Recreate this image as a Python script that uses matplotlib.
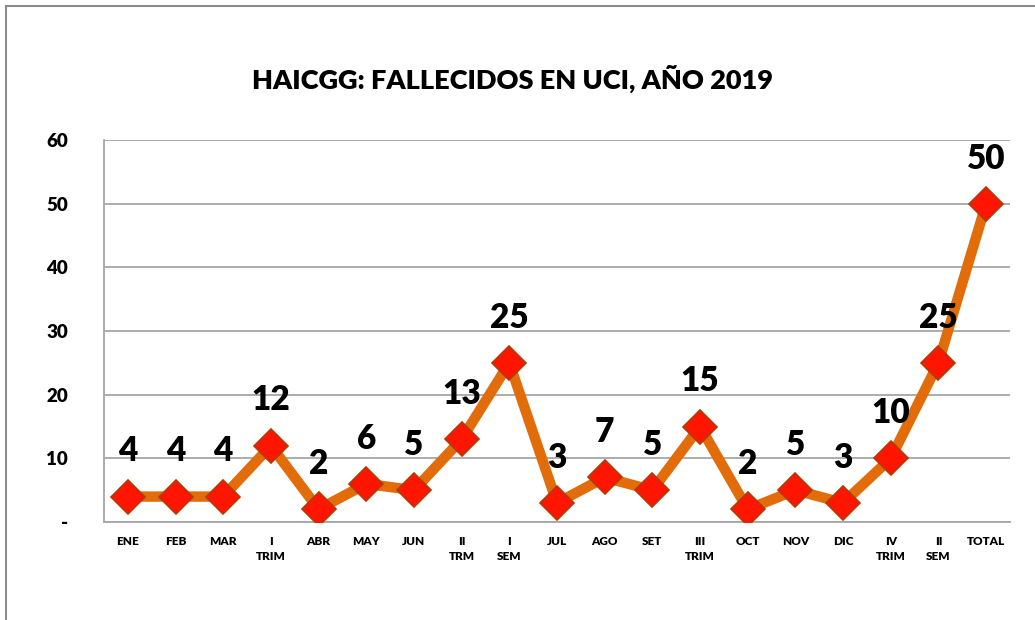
import numpy as np
import matplotlib
matplotlib.use('Agg')
import matplotlib.pyplot as plt
from matplotlib.lines import Line2D

################################################################################

categories = ["ENE", "FEB", "MAR", "I\nTRIM", "ABR", "MAY", "JUN", "II\nTRM",
              "I\nSEM", "JUL", "AGO", "SET", "III\nTRIM", "OCT", "NOV", "DIC",
              "IV\nTRIM", "II\nSEM", "TOTAL"]
values = [4, 4, 4, 12, 2, 6, 5, 13, 25, 3, 7, 5, 15, 2, 5, 3, 10, 25, 50]

y_ticks = [0, 10, 20, 30, 40, 50, 60]
y_labels = ["-", "10", "20", "30", "40", "50", "60"]

title = "HAICGG: FALLECIDOS EN UCI, AÑO 2019"

################################################################################

plt.rcParams['font.family'] = ['Lato', 'DejaVu Sans']
plt.rcParams['font.weight'] = 'bold'

fig = plt.figure(figsize=(10.35, 6.2), dpi=100)
ax = fig.add_axes([0.1005, 0.158, 0.8753, 0.616])

x = np.arange(len(values))
ax.plot(x, values, color="#E36C0A", linewidth=7.5, solid_joinstyle="miter", zorder=3)
ax.plot(x, values, linestyle="none", marker="D", markersize=17.5,
        markerfacecolor="#FF1500", markeredgecolor="#B33A00", markeredgewidth=1.2,
        zorder=4)

for xi, v in zip(x, values):
    ax.annotate(str(v), (xi, v), xytext=(0, 21), textcoords="offset points",
                ha="center", va="bottom", fontsize=24, fontweight="heavy",
                color="black", zorder=5)

ax.set_xlim(-0.5, len(values) - 0.5)
ax.set_ylim(0, 60)
ax.set_yticks(y_ticks)
ax.set_yticklabels(y_labels, fontsize=13.5, fontweight="heavy")
ax.set_xticks(x)
ax.set_xticklabels(categories, fontsize=8.5, fontweight="heavy", linespacing=1.5)
ax.tick_params(axis="both", length=0)
ax.tick_params(axis="y", pad=26)
ax.tick_params(axis="x", pad=10)

ax.grid(axis="y", color="#A6A6A6", linewidth=1.3)
ax.set_axisbelow(True)
for side in ["top", "right"]:
    ax.spines[side].set_visible(False)
ax.spines["left"].set_color("#A6A6A6")
ax.spines["bottom"].set_color("#A6A6A6")
ax.spines["left"].set_linewidth(1.3)
ax.spines["bottom"].set_linewidth(1.3)

fig.text(0.495, 0.873, title, ha="center", va="center", fontsize=19.5, fontweight="heavy")

# outer chart frame
fig.add_artist(Line2D([6 / 1035, 1], [1 - 6 / 620, 1 - 6 / 620], color="#8C8C8C", linewidth=1.5))
fig.add_artist(Line2D([6 / 1035, 6 / 1035], [0, 1 - 6 / 620], color="#8C8C8C", linewidth=1.5))

fig.savefig("out.png", dpi=100)
